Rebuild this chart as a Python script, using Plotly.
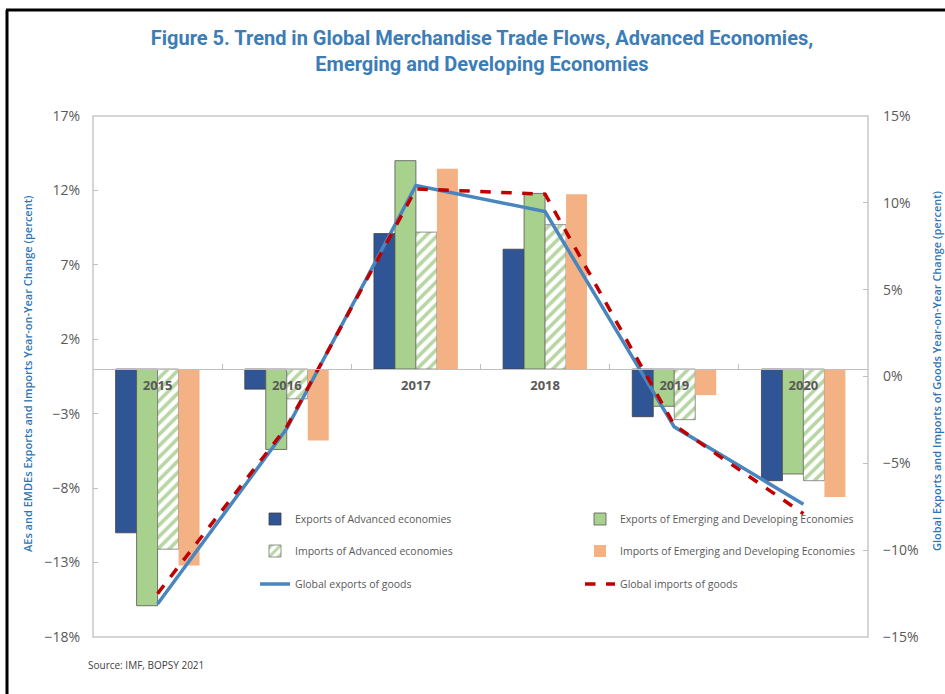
import plotly.graph_objects as go

years = ["2015", "2016", "2017", "2018", "2019", "2020"]
exports_ae = [-11.0, -1.35, 9.1, 8.05, -3.2, -7.5]
exports_emde = [-15.9, -5.4, 14.0, 11.8, -2.5, -7.05]
imports_ae = [-12.1, -2.0, 9.2, 9.7, -3.4, -7.5]
imports_emde = [-13.2, -4.8, 13.45, 11.75, -1.75, -8.6]
global_exports = [-13.1, -3.0, 11.0, 9.5, -2.9, -7.35]
global_imports = [-12.5, -2.9, 10.8, 10.5, -2.8, -7.9]

left_range = [-18, 17]
right_range = [-15, 15]

W, H = 945, 694
ML, MR, MT, MB = 93, 77, 116, 57
PW, PH = W - ML - MR, H - MT - MB

def px(x):
    return (x - ML) / PW

def py(y):
    return (H - MB - y) / PH

gray_txt = "#595959"
fig = go.Figure()

fig.add_trace(go.Bar(x=years, y=exports_ae, name="Exports of Advanced economies",
                     marker=dict(color="#2F5597", line=dict(color="#404040", width=0.8)),
                     legend="legend"))
fig.add_trace(go.Bar(x=years, y=exports_emde, name="Exports of Emerging and Developing Economies",
                     marker=dict(color="#A9D18E", line=dict(color="#555555", width=0.8)),
                     legend="legend"))
fig.add_trace(go.Bar(x=years, y=imports_ae, name="Imports of Advanced economies",
                     marker=dict(color="white", line=dict(color="#777777", width=0.8),
                                 pattern=dict(shape="/", fgcolor="#70AD47", bgcolor="white",
                                              size=8, solidity=0.45)),
                     legend="legend2"))
fig.add_trace(go.Bar(x=years, y=imports_emde, name="Imports of Emerging and Developing Economies",
                     marker=dict(color="#F4B183", line=dict(width=0)),
                     legend="legend2"))
fig.add_trace(go.Scatter(x=years, y=global_exports, name="Global exports of goods", yaxis="y2",
                         mode="lines", line=dict(color="#4A86BE", width=3.5),
                         legend="legend3"))
fig.add_trace(go.Scatter(x=years, y=global_imports, name="Global imports of goods", yaxis="y2",
                         mode="lines", line=dict(color="#C00000", width=3.5, dash="dash"),
                         legend="legend3"))

zero_pos = (0 - left_range[0]) / (left_range[1] - left_range[0])

leg_common = dict(orientation="h", x=px(255), xanchor="left", yanchor="middle",
                  font=dict(family="Open Sans", size=10.5, color=gray_txt),
                  bgcolor="rgba(0,0,0,0)", entrywidth=280, itemwidth=30)

fig.update_layout(
    width=W, height=H,
    margin=dict(l=ML, r=MR, t=MT, b=MB),
    paper_bgcolor="white", plot_bgcolor="white",
    barmode="group", bargap=0.35, bargroupgap=0,
    title=dict(text="Figure 5. Trend in Global Merchandise Trade Flows, Advanced Economies,<br>Emerging and Developing Economies",
               x=0.51, xanchor="center", y=0.935, yanchor="middle",
               font=dict(family="Roboto", size=20, color="#3D7DB5", weight="bold")),
    xaxis=dict(type="category", anchor="free", position=zero_pos, showline=True,
               linecolor="#BFBFBF", linewidth=1.2, ticks="inside", ticklen=5,
               tickcolor="#BFBFBF", tickson="boundaries", showgrid=False,
               tickfont=dict(family="Open Sans", size=13, color=gray_txt, weight="bold"),
               ticklabelstandoff=4),
    yaxis=dict(range=left_range, tick0=-18, dtick=5, ticksuffix="%", showgrid=False,
               zeroline=False, showline=False, ticks="inside", ticklen=5, tickcolor="#BFBFBF",
               tickfont=dict(family="Open Sans", size=14, color=gray_txt),
               ticklabelstandoff=12),
    yaxis2=dict(range=right_range, tick0=-15, dtick=5, ticksuffix="%", overlaying="y",
                side="right", showgrid=False, zeroline=False, showline=False,
                ticks="inside", ticklen=5, tickcolor="#BFBFBF",
                tickfont=dict(family="Open Sans", size=14, color=gray_txt),
                ticklabelstandoff=14),
    legend=dict(y=py(519), **leg_common),
    legend2=dict(y=py(551), **leg_common),
    legend3=dict(y=py(584), **leg_common),
    shapes=[
        dict(type="rect", xref="paper", yref="paper", x0=0, x1=1, y0=0, y1=1,
             line=dict(color="#C8C8C8", width=1.5), layer="below"),
        dict(type="line", xref="paper", yref="paper", x0=px(7), x1=px(7), y0=py(10), y1=py(H + 5),
             line=dict(color="black", width=3)),
        dict(type="line", xref="paper", yref="paper", x0=px(6), x1=px(W + 5), y0=py(10), y1=py(10),
             line=dict(color="black", width=3)),
    ],
    annotations=[
        dict(text="AEs and EMDEs Exports and Imports Year-on-Year Change (percent)",
             xref="paper", yref="paper", x=px(27), y=py(374), textangle=-90,
             showarrow=False, xanchor="center", yanchor="middle",
             font=dict(family="Open Sans", size=11, color="#2E75B6", weight=600)),
        dict(text="Global Exports and Imports of Goods Year-on-Year Change (percent)",
             xref="paper", yref="paper", x=px(936), y=py(370), textangle=-90,
             showarrow=False, xanchor="center", yanchor="middle",
             font=dict(family="Open Sans", size=11, color="#2E75B6", weight=600)),
        dict(text="Source: IMF, BOPSY 2021", xref="paper", yref="paper",
             x=px(86), y=py(665), xanchor="left", yanchor="middle", showarrow=False,
             font=dict(family="Open Sans", size=10, color="#404040")),
    ],
)

fig.write_html("out.html")
